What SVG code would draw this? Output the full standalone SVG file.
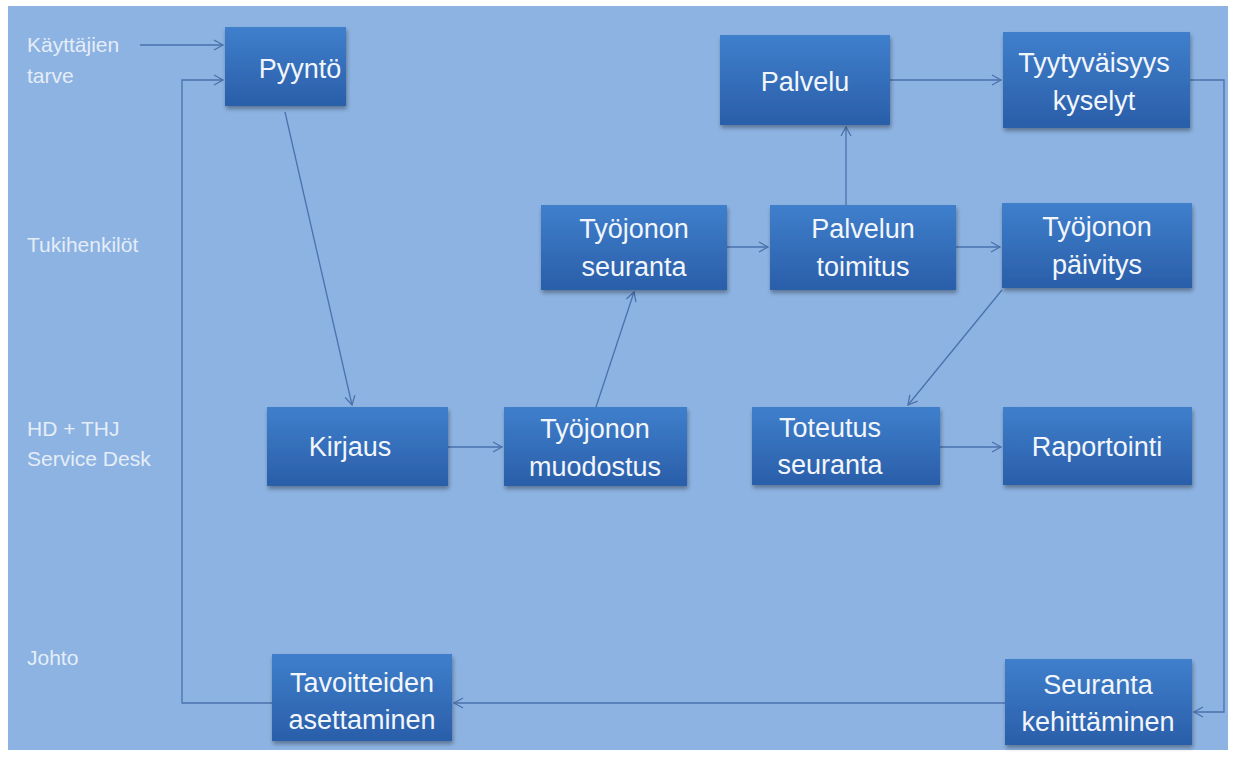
<svg xmlns="http://www.w3.org/2000/svg" width="1234" height="758" viewBox="0 0 1234 758">
<style>
.lane{font-family:"Liberation Sans",Arial,sans-serif;font-size:21px;fill:#e4edf8}
.nt{font-family:"Liberation Sans",Arial,sans-serif;font-size:27px;fill:#f2f6fb;text-anchor:middle}
.box{fill:url(#g);filter:url(#sh)}
.c{fill:none;stroke:#4a72ac;stroke-width:1.3}
</style>
<defs>
<linearGradient id="g" x1="0" y1="0" x2="0" y2="1">
<stop offset="0" stop-color="#3f7fcc"/>
<stop offset="1" stop-color="#2a5ea9"/>
</linearGradient>
<filter id="sh" x="-10%" y="-10%" width="125%" height="130%">
<feGaussianBlur in="SourceAlpha" stdDeviation="2"/>
<feOffset dx="1" dy="3" result="b"/>
<feComponentTransfer><feFuncA type="linear" slope="0.35"/></feComponentTransfer>
<feMerge><feMergeNode/><feMergeNode in="SourceGraphic"/></feMerge>
</filter>
<marker id="a" markerWidth="12" markerHeight="12" refX="10" refY="6" orient="auto" markerUnits="userSpaceOnUse">
<path d="M1,1 L10,6 L1,11" fill="none" stroke="#4a72ac" stroke-width="1.3"/>
</marker>
</defs>
<rect width="1234" height="758" fill="#ffffff"/>
<rect x="8" y="6" width="1220" height="744" fill="#8db3e2"/>
<g id="lanes">
<text class="lane" x="27" y="52">Käyttäjien</text>
<text class="lane" x="27" y="83">tarve</text>
<text class="lane" x="27" y="252">Tukihenkilöt</text>
<text class="lane" x="27" y="436">HD + THJ</text>
<text class="lane" x="27" y="466">Service Desk</text>
<text class="lane" x="27" y="665">Johto</text>
</g>
<g id="connectors">
<path class="c" marker-end="url(#a)" d="M140,45 H223"/>
<path class="c" marker-end="url(#a)" d="M272,703 H182 V80 H223"/>
<path class="c" marker-end="url(#a)" d="M285,112 L352,405"/>
<path class="c" marker-end="url(#a)" d="M448,447 H502"/>
<path class="c" marker-end="url(#a)" d="M596,407 L634,292"/>
<path class="c" marker-end="url(#a)" d="M727,247 H768"/>
<path class="c" marker-end="url(#a)" d="M846,205 V127"/>
<path class="c" marker-end="url(#a)" d="M956,247 H1000"/>
<path class="c" marker-end="url(#a)" d="M890,80 H1001"/>
<path class="c" marker-end="url(#a)" d="M1190,80 H1224 V712 H1194"/>
<path class="c" marker-end="url(#a)" d="M1002,290 L908,405"/>
<path class="c" marker-end="url(#a)" d="M940,447 H1001"/>
<path class="c" marker-end="url(#a)" d="M1005,703 H454"/>
</g>
<g id="n-pyynto"><rect class="box" x="225" y="27" width="121" height="79"/><text class="nt" x="300" y="78">Pyyntö</text></g>
<g id="n-palvelu"><rect class="box" x="720" y="35" width="170" height="90"/><text class="nt" x="805" y="91">Palvelu</text></g>
<g id="n-tyyty"><rect class="box" x="1003" y="32" width="187" height="96"/><text class="nt" x="1094" y="72">Tyytyväisyys</text><text class="nt" x="1094" y="110">kyselyt</text></g>
<g id="n-seuranta"><rect class="box" x="541" y="205" width="186" height="85"/><text class="nt" x="634" y="238">Työjonon</text><text class="nt" x="634" y="276">seuranta</text></g>
<g id="n-toimitus"><rect class="box" x="770" y="205" width="186" height="85"/><text class="nt" x="863" y="238">Palvelun</text><text class="nt" x="863" y="276">toimitus</text></g>
<g id="n-paivitys"><rect class="box" x="1002" y="203" width="190" height="85"/><text class="nt" x="1097" y="236">Työjonon</text><text class="nt" x="1097" y="274">päivitys</text></g>
<g id="n-kirjaus"><rect class="box" x="267" y="407" width="181" height="79"/><text class="nt" x="350" y="456">Kirjaus</text></g>
<g id="n-muodostus"><rect class="box" x="504" y="407" width="183" height="79"/><text class="nt" x="595" y="438">Työjonon</text><text class="nt" x="595" y="476">muodostus</text></g>
<g id="n-toteutus"><rect class="box" x="752" y="407" width="188" height="78"/><text class="nt" x="830" y="437">Toteutus</text><text class="nt" x="830" y="474">seuranta</text></g>
<g id="n-raportointi"><rect class="box" x="1003" y="407" width="189" height="78"/><text class="nt" x="1097" y="456">Raportointi</text></g>
<g id="n-tavoitteiden"><rect class="box" x="272" y="654" width="180" height="87"/><text class="nt" x="362" y="692">Tavoitteiden</text><text class="nt" x="362" y="729">asettaminen</text></g>
<g id="n-kehittaminen"><rect class="box" x="1005" y="659" width="187" height="86"/><text class="nt" x="1098" y="694">Seuranta</text><text class="nt" x="1098" y="731">kehittäminen</text></g>
</svg>
